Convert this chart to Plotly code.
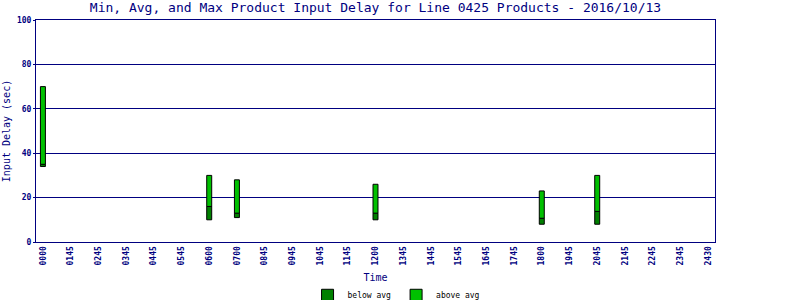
import plotly.graph_objects as go

categories = ["0000", "0145", "0245", "0345", "0445", "0545", "0600", "0700", "0845",
              "0945", "1045", "1145", "1200", "1345", "1445", "1545", "1645", "1745",
              "1800", "1945", "2045", "2145", "2245", "2345", "2430"]
bar_times = ["0000", "0600", "0700", "1200", "1800", "2045"]
min_delay = [34, 10, 11, 10, 8, 8]
avg_delay = [35, 16, 13, 13, 10.7, 13.8]
max_delay = [70, 30, 28, 26, 23, 30]

NAVY = "#000080"
mono = "DejaVu Sans Mono"

below = [a - m for a, m in zip(avg_delay, min_delay)]
above = [mx - a for mx, a in zip(max_delay, avg_delay)]

fig = go.Figure()
fig.add_trace(go.Bar(x=bar_times, y=below, base=min_delay, name="below avg",
                     marker=dict(color="#008000", line=dict(color="black", width=1)),
                     width=0.18))
fig.add_trace(go.Bar(x=bar_times, y=above, base=avg_delay, name="above avg",
                     marker=dict(color="#00C000", line=dict(color="black", width=1)),
                     width=0.18))

fig.update_layout(
    width=800, height=300,
    margin=dict(l=36, r=85, t=20, b=58, autoexpand=False),
    paper_bgcolor="white", plot_bgcolor="white",
    barmode="overlay",
    title=dict(text="Min, Avg, and Max Product Input Delay for Line 0425 Products - 2016/10/13",
               x=0.5, xref="paper", xanchor="center", y=0.975, yref="container", yanchor="middle",
               font=dict(family=mono, size=13, color=NAVY)),
    legend=dict(orientation="h", x=0.531, xanchor="center", y=-0.24, yanchor="middle",
                font=dict(family=mono, size=8, color="black"), traceorder="normal",
                itemwidth=30, tracegroupgap=0),
    showlegend=True,
)
fig.update_xaxes(
    type="category", categoryorder="array", categoryarray=categories,
    range=[-0.25, 24.25], automargin=False,
    showline=True, linecolor=NAVY, linewidth=1, mirror=True,
    showgrid=False, ticks="", tickangle=-90,
    tickfont=dict(family=mono, size=8, color=NAVY, weight="bold"),
    title=dict(text="Time", font=dict(family=mono, size=10, color=NAVY), standoff=9),
)
fig.update_yaxes(
    range=[0, 100], tickvals=[0, 20, 40, 60, 80, 100], automargin=False,
    showline=True, linecolor=NAVY, linewidth=1, mirror=True,
    showgrid=True, gridcolor=NAVY, gridwidth=1, zeroline=False,
    ticks="outside", ticklen=2, tickcolor=NAVY,
    tickfont=dict(family=mono, size=8, color=NAVY, weight="bold"),
    title=dict(text="Input Delay (sec)", font=dict(family=mono, size=10, color=NAVY), standoff=4),
)

fig.write_html("out.html")
